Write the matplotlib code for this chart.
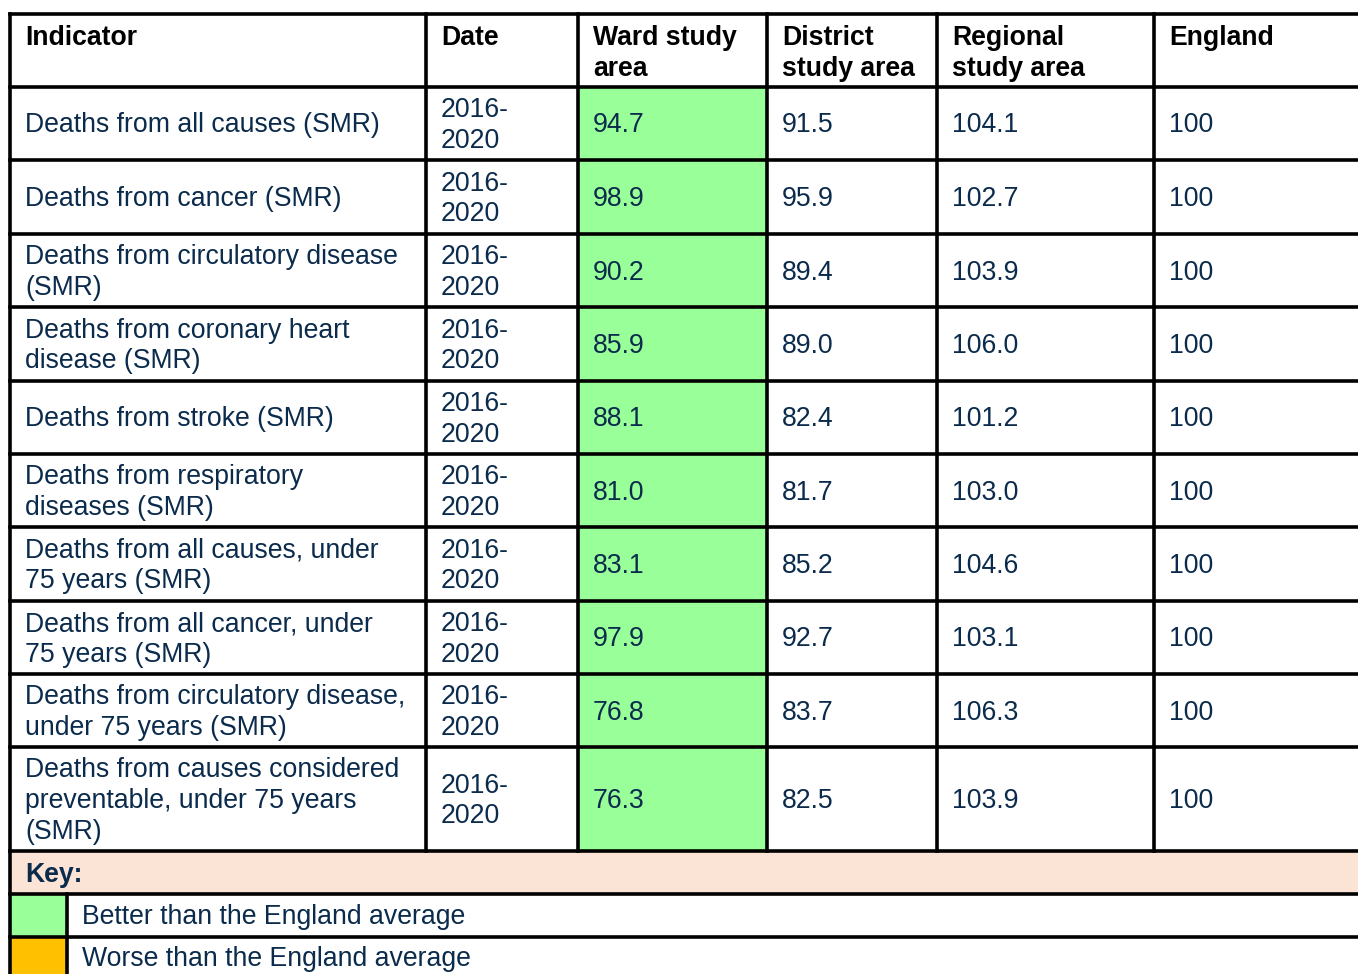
import matplotlib
matplotlib.use("Agg")
import matplotlib.pyplot as plt
from matplotlib.patches import Rectangle

headers = ["Indicator", "Date", "Ward study\narea", "District\nstudy area", "Regional\nstudy area", "England"]
indicators = [
    "Deaths from all causes (SMR)",
    "Deaths from cancer (SMR)",
    "Deaths from circulatory disease\n(SMR)",
    "Deaths from coronary heart\ndisease (SMR)",
    "Deaths from stroke (SMR)",
    "Deaths from respiratory\ndiseases (SMR)",
    "Deaths from all causes, under\n75 years (SMR)",
    "Deaths from all cancer, under\n75 years (SMR)",
    "Deaths from circulatory disease,\nunder 75 years (SMR)",
    "Deaths from causes considered\npreventable, under 75 years\n(SMR)",
]
dates = ["2016-\n2020"] * 10
ward = ["94.7", "98.9", "90.2", "85.9", "88.1", "81.0", "83.1", "97.9", "76.8", "76.3"]
district = ["91.5", "95.9", "89.4", "89.0", "82.4", "81.7", "85.2", "92.7", "83.7", "82.5"]
regional = ["104.1", "102.7", "103.9", "106.0", "101.2", "103.0", "104.6", "103.1", "106.3", "103.9"]
england = ["100"] * 10
ward_status = ["better"] * 10
key_title = "Key:"
key_labels = ["Better than the England average", "Worse than the England average"]
key_status = ["better", "worse"]

status_colors = {"better": "#99FF99", "worse": "#FFC000"}
peach = "#FBE3D6"
txt = "#0B2B4C"

W, H = 1358, 974
fig = plt.figure(figsize=(W / 100, H / 100), dpi=100)
ax = fig.add_axes([0, 0, 1, 1])
ax.set_xlim(0, W)
ax.set_ylim(H, 0)
ax.axis("off")

col_x = [10, 426, 578, 767, 937, 1154, 1400]
row_y = [14, 87, 160, 234, 307, 381, 454, 527, 601, 674, 747, 851]
key_y = [851, 894, 937, 978]
swatch_x = 67
pad = 15
fs = 19.2
font = "Liberation Sans"
lw = 2.6
ls = 1.24

# ward fills
for i, st in enumerate(ward_status):
    ax.add_patch(Rectangle((col_x[2], row_y[i + 1]), col_x[3] - col_x[2],
                           row_y[i + 2] - row_y[i + 1], color=status_colors[st], lw=0, zorder=1))
# key fills
ax.add_patch(Rectangle((col_x[0], key_y[0]), W + 50, key_y[1] - key_y[0], color=peach, lw=0, zorder=1))
for j, st in enumerate(key_status):
    ax.add_patch(Rectangle((col_x[0], key_y[j + 1]), swatch_x - col_x[0],
                           key_y[j + 2] - key_y[j + 1] + 20, color=status_colors[st], lw=0, zorder=1))

# header text
for c, h in enumerate(headers):
    ax.text(col_x[c] + pad, 25, h, ha="left", va="top", fontsize=fs, fontweight="bold",
            family=font, color="#000000", linespacing=ls, zorder=3)

columns = [indicators, dates, ward, district, regional, england]
for r in range(10):
    yc = (row_y[r + 1] + row_y[r + 2]) / 2
    for c, col in enumerate(columns):
        ax.text(col_x[c] + pad, yc + 2, col[r], ha="left", va="center", fontsize=fs,
                family=font, color=txt, linespacing=ls, zorder=3)

ax.text(col_x[0] + pad, (key_y[0] + key_y[1]) / 2 + 2, key_title, ha="left", va="center",
        fontsize=fs, fontweight="bold", family=font, color=txt, zorder=3)
for j, lab in enumerate(key_labels):
    ax.text(swatch_x + pad, (key_y[j + 1] + key_y[j + 2]) / 2 + 2, lab, ha="left", va="center",
            fontsize=fs, family=font, color=txt, zorder=3)

# grid lines
for y in row_y:
    ax.plot([col_x[0], W + 10], [y, y], color="black", lw=lw, solid_capstyle="projecting", zorder=4)
for y in key_y[1:3]:
    ax.plot([col_x[0], W + 10], [y, y], color="black", lw=lw, solid_capstyle="projecting", zorder=4)
for x in col_x[:6]:
    ax.plot([x, x], [row_y[0], row_y[-1]], color="black", lw=lw, solid_capstyle="projecting", zorder=4)
ax.plot([col_x[0], col_x[0]], [row_y[-1], H + 10], color="black", lw=lw, zorder=4)
ax.plot([swatch_x, swatch_x], [key_y[1], H + 10], color="black", lw=lw, zorder=4)

fig.savefig("out.png", dpi=100, facecolor="white")
